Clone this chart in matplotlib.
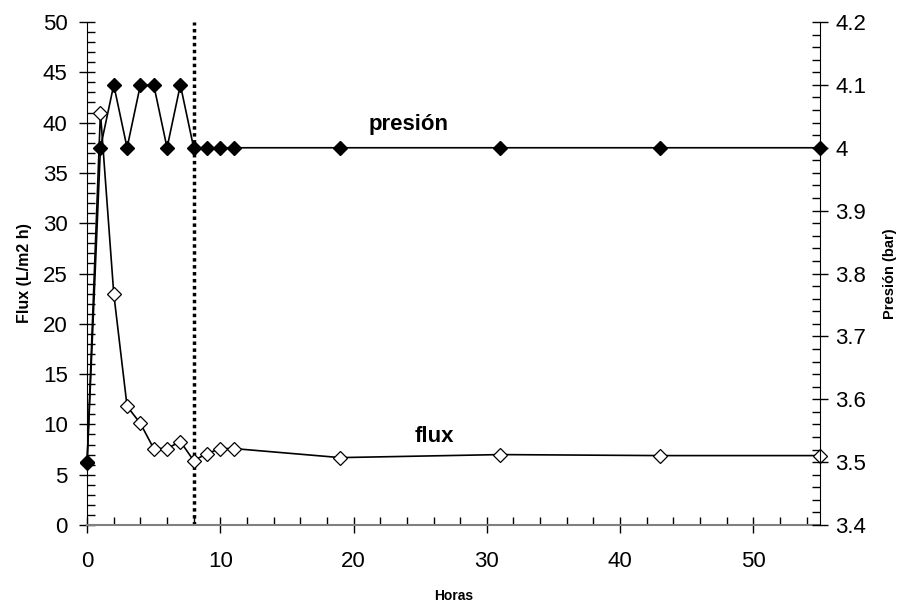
import numpy as np
import matplotlib
matplotlib.use('Agg')
import matplotlib.pyplot as plt
from matplotlib.ticker import MultipleLocator

plt.rcParams['font.family'] = ['Liberation Sans', 'DejaVu Sans']

horas = [0, 1, 2, 3, 4, 5, 6, 7, 8, 9, 10, 11, 19, 31, 43, 55]
flux = [6.2, 41.0, 23.0, 11.8, 10.1, 7.6, 7.6, 8.3, 6.4, 7.1, 7.6, 7.6, 6.7, 7.0, 6.9, 6.9]
presion = [3.5, 4.0, 4.1, 4.0, 4.1, 4.1, 4.0, 4.1, 4.0, 4.0, 4.0, 4.0, 4.0, 4.0, 4.0, 4.0]
corte = 8

fig = plt.figure(figsize=(8.98, 6.08), dpi=100)
ax = fig.add_axes([0.097, 0.1365, 0.816, 0.8273])
ax2 = ax.twinx()

ax.plot(horas, flux, color='black', lw=1.2, marker='D', ms=7,
        mfc='white', mec='black', mew=0.9, zorder=3, clip_on=False)
ax2.plot(horas, presion, color='black', lw=1.2, marker='D', ms=7,
         mfc='black', mec='black', zorder=4, clip_on=False)
ax.axvline(corte, color='black', lw=2.5, ls=(0, (1, 1)), zorder=2)

ax.xaxis.set_major_locator(MultipleLocator(10))
ax.xaxis.set_minor_locator(MultipleLocator(2))
ax.yaxis.set_major_locator(MultipleLocator(5))
ax.yaxis.set_minor_locator(MultipleLocator(1))
ax2.yaxis.set_major_locator(MultipleLocator(0.1))
ax2.yaxis.set_minor_locator(MultipleLocator(0.02))

def fmt_bar(v, pos):
    return f'{v:.1f}'.rstrip('0').rstrip('.')
ax2.yaxis.set_major_formatter(plt.FuncFormatter(fmt_bar))

ax.set_xlim(0, 55)
ax.set_ylim(0, 50)
ax2.set_ylim(3.4, 4.2)

for a in (ax, ax2):
    a.spines['top'].set_visible(False)
ax.spines['right'].set_visible(False)
ax.spines['left'].set_color('black')
ax.spines['bottom'].set_color('#808080')
ax.spines['bottom'].set_linewidth(1.5)
ax2.spines['left'].set_visible(False)
ax2.spines['bottom'].set_visible(False)

ax.tick_params(axis='both', which='major', direction='inout', length=12,
               width=1, labelsize=16, pad=8)
ax.tick_params(axis='both', which='minor', direction='in', length=6, width=1)
ax.tick_params(axis='x', which='major', pad=13)
ax2.tick_params(axis='y', which='major', direction='inout', length=12,
                width=1, labelsize=16, pad=5)
ax2.tick_params(axis='y', which='minor', direction='in', length=6, width=1)

ax.set_xlabel('Horas', fontsize=10, fontweight='bold', labelpad=12)
ax.set_ylabel('Flux (L/m2 h)', fontsize=11.5, fontweight='bold', labelpad=8)
ax2.set_ylabel('Presión (bar)', fontsize=10.5, fontweight='bold', labelpad=12)

ax.text(24.1, 39.8, 'presión', fontsize=16, fontweight='bold', ha='center', va='center')
ax.text(26.1, 8.75, 'flux', fontsize=16, fontweight='bold', ha='center', va='center')

fig.savefig('out.png', dpi=100)
